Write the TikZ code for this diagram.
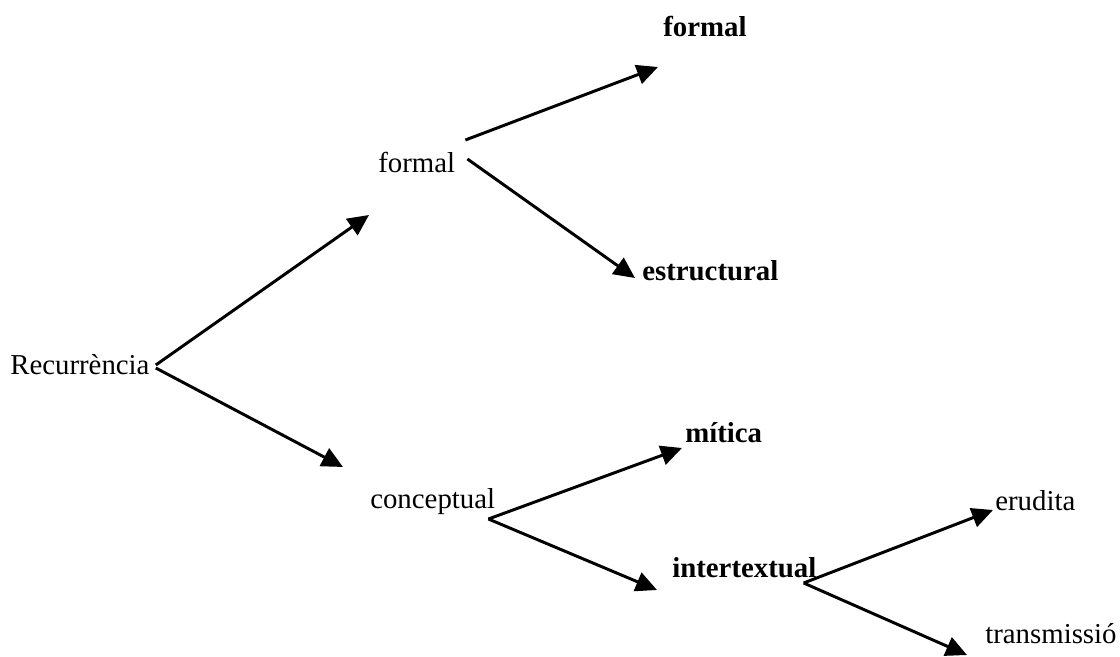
\documentclass[tikz,border=0pt]{standalone}
\usepackage{fontspec}
\setmainfont{Liberation Serif}
\usepackage{tikz}
\usetikzlibrary{positioning, arrows.meta, calc}

\begin{document}
\begin{tikzpicture}[x=0.025cm, y=-0.025cm, font=\fontsize{20.5}{24}\selectfont,
		term/.style={inner sep=0pt, anchor=base west},
		bterm/.style={term, font=\fontsize{20.5}{24}\selectfont\bfseries},
		arr/.style={line width=2.1pt, -{Triangle[length=15pt, width=14pt]}}]
					\useasboundingbox (0,0) rectangle (1120,657);
					\node[term] (rec) at (10,374) {Recurrència};
					\node[term] (fm) at (378,173) {formal};
					\node[term] (cn) at (370,508) {conceptual};
					\node[bterm] (ff) at (663,37) {formal};
					\node[bterm] (es) at (642,280) {estructural};
					\node[bterm] (mi) at (685,442) {mítica};
					\node[bterm] (it) at (672,577) {intertextual};
					\node[term] (er) at (995,510) {erudita};
					\node[term] (tr) at (985,643) {transmissió};
					\draw[arr] ($(rec.base east)+(6,-9)$) -- ($(fm.base west)+(-9,42)$);
					\draw[arr] ($(rec.base east)+(6,-6)$) -- ($(cn.base west)+(-27,-41)$);
					\draw[arr] ($(fm.base east)+(10,-33)$) -- ($(ff.base west)+(-5,30)$);
					\draw[arr] ($(fm.base east)+(12,-14)$) -- ($(es.base west)+(-7,-2)$);
					\draw[arr] ($(cn.base east)+(-7,11)$) -- ($(mi.base west)+(-3,6)$);
					\draw[arr] ($(cn.base east)+(-7,11)$) -- ($(it.base west)+(-15,13)$);
					\draw[arr] ($(it.base east)+(-13,6)$) -- ($(er.base west)+(-2,0)$);
					\draw[arr] ($(it.base east)+(-13,6)$) -- ($(tr.base west)+(-18,12)$);
				\end{tikzpicture}
\end{document}
